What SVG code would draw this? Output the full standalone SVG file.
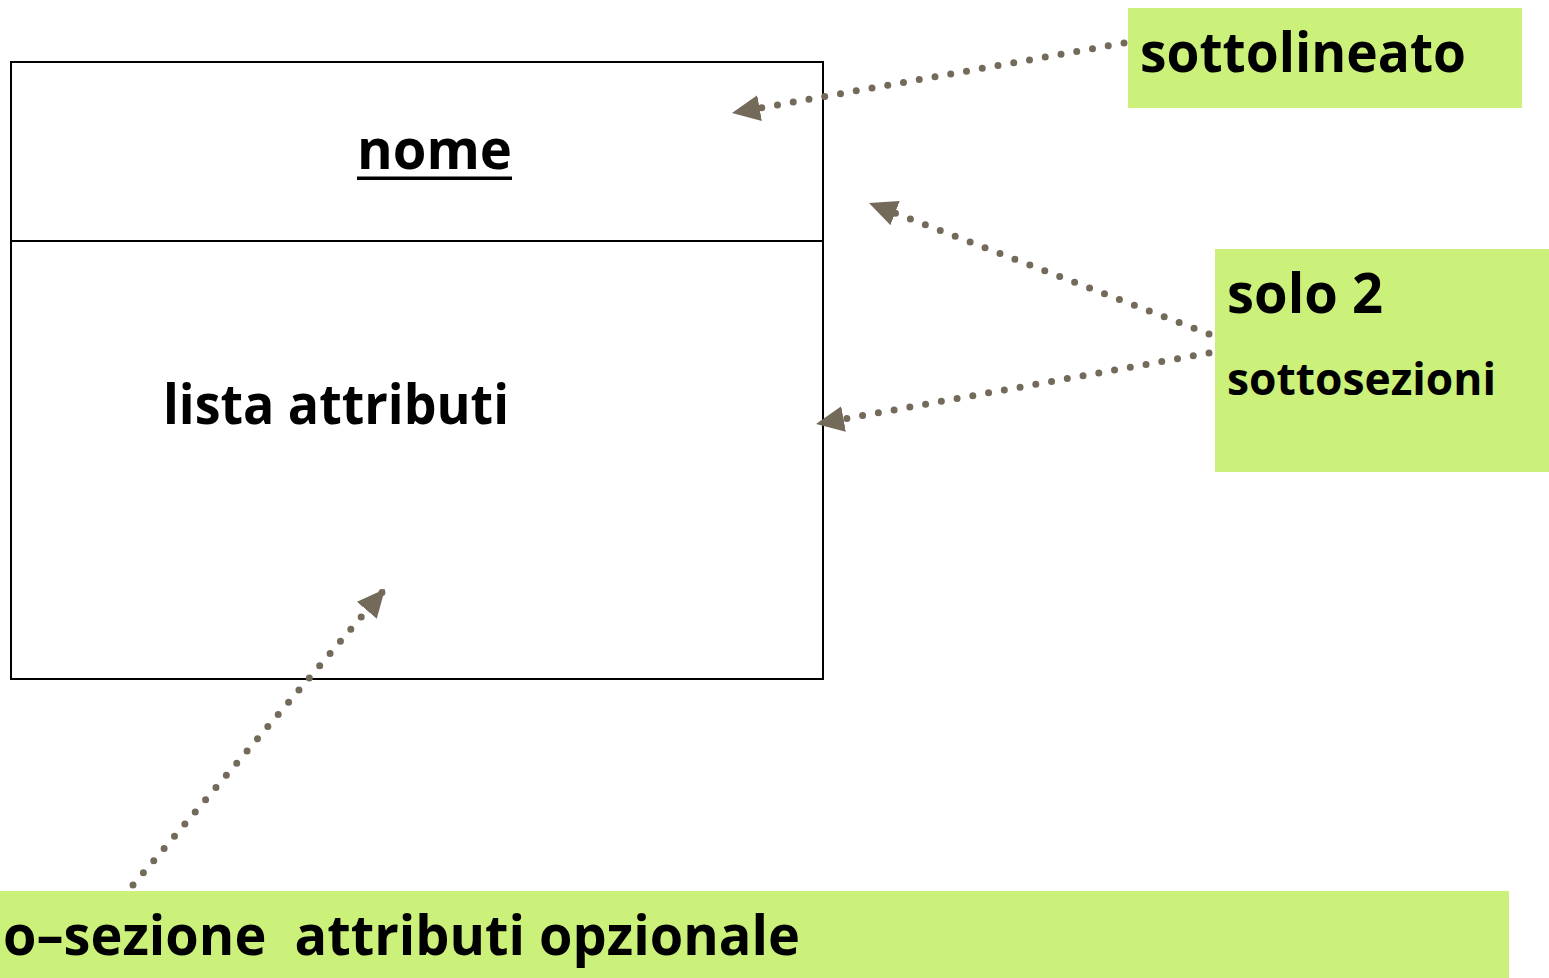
<svg xmlns="http://www.w3.org/2000/svg" width="1549" height="978" viewBox="0 0 1549 978">
<style>
.note{fill:#ccf17a}
.t{font-family:"Open Sans","Liberation Sans",sans-serif;font-weight:bold;fill:#000;white-space:pre}
.con{fill:none;stroke:#736a5a;stroke-width:7;stroke-linecap:round;stroke-dasharray:0 16}
</style>
<defs>
<marker id="ah" markerUnits="userSpaceOnUse" markerWidth="30" markerHeight="26" viewBox="0 0 30 26" refX="28" refY="13" orient="auto">
<path d="M0,0 L28,13 L0,26 Z" fill="#736a5a"/>
</marker>
</defs>
<rect width="1549" height="978" fill="#fff"/>
<g id="entity">
<rect x="11" y="62" width="812" height="617" fill="#fff" stroke="#000" stroke-width="2"/>
<line x1="11" y1="241" x2="823" y2="241" stroke="#000" stroke-width="2"/>
<text class="t" x="357" y="169" font-size="55" textLength="155" lengthAdjust="spacingAndGlyphs">nome</text>
<rect x="357" y="176.5" width="155" height="3.5" fill="#000"/>
<text class="t" x="163" y="424" font-size="55" textLength="346" lengthAdjust="spacingAndGlyphs">lista attributi</text>
</g>
<g id="note-sottolineato">
<rect class="note" x="1128" y="8" width="394" height="100"/>
<text class="t" x="1140" y="72" font-size="55" textLength="326" lengthAdjust="spacingAndGlyphs">sottolineato</text>
</g>
<g id="note-solo2">
<rect class="note" x="1215" y="249" width="334" height="223"/>
<text class="t" x="1227" y="313" font-size="55" textLength="156" lengthAdjust="spacingAndGlyphs">solo 2</text>
<text class="t" x="1227" y="395" font-size="45" textLength="269" lengthAdjust="spacingAndGlyphs">sottosezioni</text>
</g>
<g id="note-opzionale">
<rect class="note" x="0" y="891" width="1509" height="87"/>
<text class="t" x="3" y="955" font-size="55" textLength="797" lengthAdjust="spacingAndGlyphs" xml:space="preserve">o–sezione  attributi opzionale</text>
</g>
<g id="connectors">
<line class="con" x1="1124" y1="43" x2="732" y2="113" marker-end="url(#ah)"/>
<line class="con" x1="1209" y1="334" x2="869" y2="203" marker-end="url(#ah)"/>
<line class="con" x1="1209" y1="353" x2="816" y2="424" marker-end="url(#ah)"/>
<line class="con" x1="133" y1="885" x2="385" y2="589" marker-end="url(#ah)"/>
</g>
</svg>
